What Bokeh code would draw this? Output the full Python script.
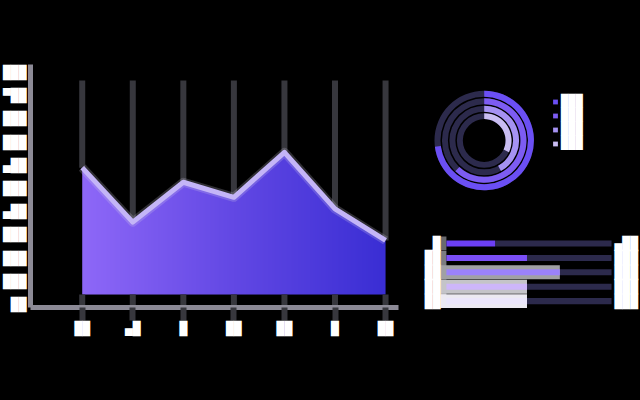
import numpy as np
from bokeh.plotting import figure
from bokeh.layouts import row, column
from bokeh.models import Range1d, FixedTicker, LinearAxis, Legend, LegendItem
from bokeh.embed import file_html
from bokeh.resources import INLINE

# ---------------- data ----------------
x_idx = [0, 1, 2, 3, 4, 5, 6]
x_labels = ["██", "▄█", "█", "██", "██", "█", "██"]
area_values = [59.0, 35.5, 52.7, 46.2, 65.6, 41.2, 27.6]
area_base = 4.3

y_ticks = [0, 10, 20, 30, 40, 50, 60, 70, 80, 90, 100]
y_labels = ["██", "███", "███", "███", "▄██", "███", "▄██", "███", "███", "▀██", "███"]

ring_values = [0.73, 0.62, 0.42, 0.32]
ring_colors = ["#6b4ff4", "#7d5cf2", "#a592f2", "#c9bdf2"]
legend_labels = ["███", "███", "███", "███"]

bar_rows = [0, 1, 2, 3, 4]
bar_values = [29.5, 48.8, 68.7, 48.8, 48.8]
bar_max = 100
bar_labels_left = ["█", "██", "██", "██", "██"]
bar_labels_right = ["▄██", "███", "███", "███", "███"]
bar_colors = ["#6c3ff5", "#7b4ff7", "#9b82fa", "#cdb6fa", "#ebe6fb"]
band_colors = ["#000000", "#000000", "#a0a0a4", "#c4c4c8", "#eceaf2"]
cap_colors = ["#6a6a6e", "#7c7c80", "#a0a0a4", "#c4c4c8", "#eceaf2"]

# ---------------- styles ----------------
BG = "black"
AXIS_COLOR = "#8c8a96"
GRID_COLOR = "#37373d"
TRACK = "#2c2a4c"
FONT = "DejaVu Sans Mono"
FSIZE = "13px"
GRID_TOP = 96.5
IMG_TOP = 70.0
BAND_LEFT = -3.6

# ---------------- main area chart ----------------
p = figure(width=400, height=400, output_backend="svg", toolbar_location=None,
           x_range=Range1d(-1.023, 6.256), y_range=Range1d(-1.29, 103.45),
           min_border_left=28, min_border_right=2, min_border_top=64, min_border_bottom=93,
           background_fill_color=BG, border_fill_color=BG, outline_line_color=None)
p.grid.visible = False

xa = p.xaxis[0]
ya = p.yaxis[0]
xa.ticker = FixedTicker(ticks=x_idx)
xa.major_label_overrides = dict(zip(x_idx, x_labels))
ya.ticker = FixedTicker(ticks=y_ticks)
ya.major_label_overrides = dict(zip(y_ticks, y_labels))
for ax in (xa, ya):
    ax.axis_line_color = AXIS_COLOR
    ax.axis_line_width = 5
    ax.major_label_text_font = FONT
    ax.major_label_text_font_size = FSIZE
    ax.major_label_text_color = "white"
    ax.minor_tick_line_color = None
    ax.minor_tick_out = 0
    ax.minor_tick_in = 0
ya.major_tick_line_color = None
ya.major_tick_out = 0
ya.major_tick_in = 0
ya.major_label_standoff = 4
xa.major_tick_out = 13
xa.major_tick_in = 0
xa.major_tick_line_width = 6
xa.major_tick_line_color = GRID_COLOR
xa.major_label_standoff = 0

# gradient fill (left violet -> right blue)
n = 256
t = np.linspace(0, 1, n)
img = np.empty((2, n), dtype=np.uint32)
view = img.view(dtype=np.uint8).reshape((2, n, 4))
view[..., 0] = np.interp(t, [0, 0.5, 1], [142, 98, 58]).astype(np.uint8)
view[..., 1] = np.interp(t, [0, 0.5, 1], [104, 72, 46]).astype(np.uint8)
view[..., 2] = np.interp(t, [0, 0.5, 1], [248, 228, 212]).astype(np.uint8)
view[..., 3] = 255
p.image_rgba(image=[img], x=x_idx[0], y=area_base,
             dw=x_idx[-1] - x_idx[0], dh=IMG_TOP - area_base)

pad = 0.05
mask_x = [x_idx[0] - pad] + x_idx + [x_idx[-1] + pad, x_idx[-1] + pad, x_idx[0] - pad]
mask_y = [area_values[0]] + area_values + [area_values[-1], IMG_TOP + 1, IMG_TOP + 1]
p.patch(mask_x, mask_y, fill_color=BG, line_color=None)

# grid lines (above the curve and below the area)
p.segment(x0=x_idx, y0=[GRID_TOP] * len(x_idx), x1=x_idx, y1=area_values,
          line_color=GRID_COLOR, line_width=6)
p.segment(x0=x_idx, y0=[area_base] * len(x_idx), x1=x_idx, y1=[-1.29] * len(x_idx),
          line_color=GRID_COLOR, line_width=6)

p.line(x_idx, area_values, line_color="#d6d0ea", line_alpha=0.22, line_width=9, line_join="round")
p.line(x_idx, area_values, line_color="#c4b5f7", line_width=5, line_join="round")

# ---------------- radial bars ----------------
pd = figure(width=240, height=220, output_backend="svg", toolbar_location=None,
            x_range=Range1d(-54, 131), y_range=Range1d(-80, 140),
            min_border_left=30, min_border_right=25, min_border_top=0, min_border_bottom=0,
            x_axis_location=None, y_axis_location=None,
            background_fill_color=BG, border_fill_color=BG, outline_line_color=None)
pd.grid.visible = False
outer_r = [50, 42.5, 35, 27.5]
ring_w = 6
for r, v, c in zip(outer_r, ring_values, ring_colors):
    pd.annulus(x=0, y=0, inner_radius=r - ring_w, outer_radius=r,
               fill_color=TRACK, line_color=None)
    pd.annular_wedge(x=0, y=0, inner_radius=r - ring_w, outer_radius=r,
                     start_angle=np.pi / 2, end_angle=np.pi / 2 - 2 * np.pi * v,
                     direction="clock", fill_color=c, line_color=None)

dots = [pd.scatter(x=[np.nan], y=[np.nan], marker="square", fill_color=c, line_color=None)
        for c in ring_colors]
legend = Legend(items=[LegendItem(label=l, renderers=[d]) for l, d in zip(legend_labels, dots)],
                location=(119, 70), orientation="vertical",
                label_text_font=FONT, label_text_font_size="12px", label_text_color="white",
                glyph_width=12, glyph_height=13, label_height=13, label_standoff=0,
                spacing=0, padding=0, margin=0,
                background_fill_alpha=0, border_line_color=None)
pd.add_layout(legend)

# ---------------- horizontal bars ----------------
pb = figure(width=240, height=180, output_backend="svg", toolbar_location=None,
            x_range=Range1d(-9.64, 101.8), y_range=Range1d(10.9, -1.6),
            min_border_left=30, min_border_right=25, min_border_top=0, min_border_bottom=0,
            x_axis_location=None, y_axis_location="left",
            background_fill_color=BG, border_fill_color=BG, outline_line_color=None)
pb.grid.visible = False
pb.hbar(y=bar_rows, left=0, right=bar_max, height=0.42, fill_color=TRACK, line_color=None)
pb.hbar(y=bar_rows, left=BAND_LEFT, right=bar_values, height=0.97, fill_color=band_colors, line_color=None)
pb.hbar(y=bar_rows, left=BAND_LEFT, right=0, height=0.97, fill_color=cap_colors, line_color=None)
pb.hbar(y=bar_rows, left=0, right=bar_values, height=0.42, fill_color=bar_colors, line_color=None)

la = pb.yaxis[0]
ra = LinearAxis()
pb.add_layout(ra, "right")
for ax in (la, ra):
    ax.ticker = FixedTicker(ticks=bar_rows)
    ax.axis_line_color = None
    ax.major_tick_line_color = None
    ax.minor_tick_line_color = None
    ax.major_tick_out = 0
    ax.major_tick_in = 0
    ax.minor_tick_out = 0
    ax.minor_tick_in = 0
    ax.major_label_standoff = 0
    ax.major_label_text_font = FONT
    ax.major_label_text_font_size = FSIZE
    ax.major_label_text_color = "white"
la.major_label_standoff = -10
la.major_label_overrides = dict(zip(bar_rows, bar_labels_left))
ra.major_label_overrides = dict(zip(bar_rows, bar_labels_right))

layout = row(p, column(pd, pb, spacing=0), spacing=0)
layout.styles = {"background-color": "black"}
html = file_html(layout, INLINE)
html = html.replace("<body>", '<body style="margin:0;background-color:black;">', 1)
open("out.html", "w").write(html)
